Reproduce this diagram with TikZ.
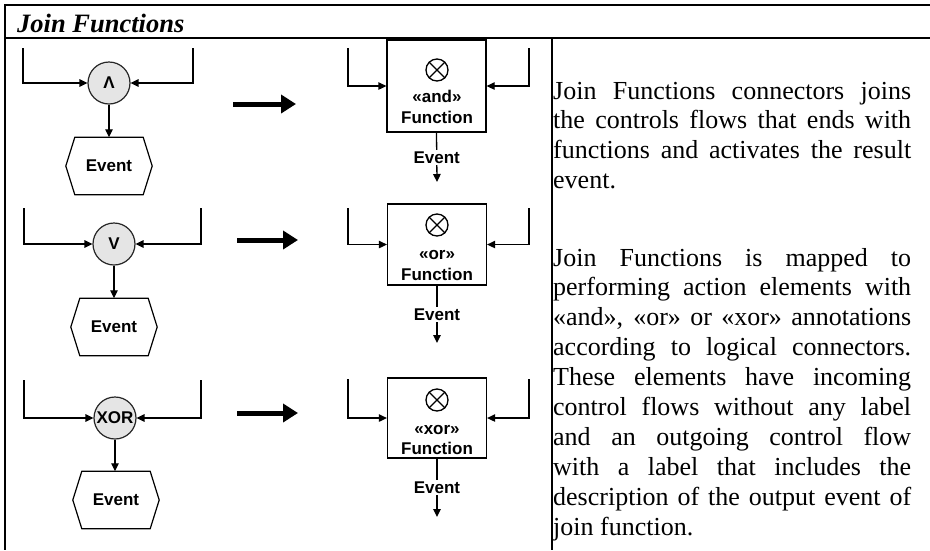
\documentclass[tikz,border=0pt]{standalone}
\usepackage{fontspec}
\setmainfont{Liberation Serif}
\newfontfamily\lsans{Liberation Sans}
\usetikzlibrary{arrows.meta}
\newcommand{\jl}[1]{\makebox[358pt][s]{#1}}
\begin{document}
\begin{tikzpicture}[x=1pt,y=-1pt,
  frame/.style={line width=2pt},
  flow/.style={line width=1.3pt,-{Triangle[length=8pt,width=7.5pt]}},
  plain/.style={line width=1.3pt},
  bigarrow/.style={line width=5pt,-{Triangle[length=15pt,width=18pt]}},
  joinc/.style={circle,draw=black!85,fill=black!10,line width=1.2pt,minimum size=42pt,inner sep=0pt,font=\lsans\bfseries\fontsize{17}{17}\selectfont},
  fnbox/.style={draw,line width=1.3pt,minimum width=99pt,inner sep=0pt},
  otimesc/.style={circle,draw,line width=1.3pt,minimum size=22pt,inner sep=0pt},
  lbl/.style={font=\lsans\bfseries\fontsize{17}{20.5}\selectfont,align=center,inner sep=0pt},
  evbox/.style={rectangle,minimum width=68pt,minimum height=57pt,inner sep=0pt,font=\lsans\bfseries\fontsize{17}{17}\selectfont},
  hexa/.style={line width=1.2pt},
  evlbl/.style={fill=white,inner sep=1.5pt,font=\lsans\bfseries\fontsize{17}{17}\selectfont},
  txt/.style={anchor=base west,inner sep=0pt,font=\fontsize{26}{26}\selectfont}
]
\useasboundingbox (0,0) rectangle (930,550);
\fill[white] (0,0) rectangle (930,550);

% frame
\coordinate (tl) at (5,5);
\coordinate (tr) at (930,5);
\coordinate (hl) at (5,38);
\coordinate (hr) at (930,38);
\coordinate (bl) at (5,550);
\coordinate (mt) at (552,38);
\coordinate (mb) at (552,550);
\draw[frame] (tr) -- (tl) -- (bl);
\draw[frame] (hl) -- (hr);
\draw[frame] (mt) -- (mb);

\node[anchor=base west,inner sep=0pt,font=\bfseries\itshape\fontsize{26.5}{26.5}\selectfont] (title) at (17,32) {Join Functions};

% ---------- group 1: AND ----------
\node[joinc] (c1) at (109,83) {Λ};
\coordinate (c1a) at (23,48);
\coordinate (c1b) at (193,48);
\draw[flow] (c1a) |- (c1.west);
\draw[flow] (c1b) |- (c1.east);
\node[evbox] (ev1) at (109,166) {Event};
\draw[hexa] (ev1.north west) -- (ev1.north east) -- ([xshift=9pt]ev1.east) -- (ev1.south east) -- (ev1.south west) -- ([xshift=-9pt]ev1.west) -- cycle;
\draw[flow] (c1) -- (ev1);

\coordinate (b1s) at (233,104);
\coordinate (b1e) at (296,104);
\draw[bigarrow] (b1s) -- (b1e);

\node[fnbox,minimum height=92pt] (f1) at (436.5,86) {};
\node[otimesc] (x1) at (437,70) {};
\draw[plain] (x1.north west) -- (x1.south east) (x1.north east) -- (x1.south west);
\node[lbl] (f1t) at (437,107) {«and»\\Function};
\coordinate (f1a) at (348,48);
\coordinate (f1b) at (529,48);
\draw[flow] (f1a) |- (f1.west);
\draw[flow] (f1b) |- (f1.east);
\coordinate (f1o) at (437,182);
\draw[flow] (f1.south) -- node[evlbl] {Event} (f1o);

% ---------- group 2: OR ----------
\node[joinc] (c2) at (114,244) {V};
\coordinate (c2a) at (24,208);
\coordinate (c2b) at (201,208);
\draw[flow] (c2a) |- (c2.west);
\draw[flow] (c2b) |- (c2.east);
\node[evbox] (ev2) at (114,327) {Event};
\draw[hexa] (ev2.north west) -- (ev2.north east) -- ([xshift=9pt]ev2.east) -- (ev2.south east) -- (ev2.south west) -- ([xshift=-9pt]ev2.west) -- cycle;
\draw[flow] (c2) -- (ev2);

\coordinate (b2s) at (237,240);
\coordinate (b2e) at (298,240);
\draw[bigarrow] (b2s) -- (b2e);

\node[fnbox,minimum height=81pt] (f2) at (437,244.5) {};
\node[otimesc] (x2) at (437,225) {};
\draw[plain] (x2.north west) -- (x2.south east) (x2.north east) -- (x2.south west);
\node[lbl] (f2t) at (437,265.5) {«or»\\Function};
\coordinate (f2a) at (348,208);
\coordinate (f2b) at (529,208);
\draw[flow] (f2a) |- (f2.west);
\draw[flow] (f2b) |- (f2.east);
\coordinate (f2o) at (437,343);
\draw[flow] (f2.south) -- node[evlbl] {Event} (f2o);

% ---------- group 3: XOR ----------
\node[joinc] (c3) at (115,418) {XOR};
\coordinate (c3a) at (24,380);
\coordinate (c3b) at (201,380);
\draw[flow] (c3a) |- (c3.west);
\draw[flow] (c3b) |- (c3.east);
\node[evbox] (ev3) at (116,500) {Event};
\draw[hexa] (ev3.north west) -- (ev3.north east) -- ([xshift=9pt]ev3.east) -- (ev3.south east) -- (ev3.south west) -- ([xshift=-9pt]ev3.west) -- cycle;
\draw[flow] (c3) -- (c3 |- ev3.north);

\coordinate (b3s) at (237,413);
\coordinate (b3e) at (298,413);
\draw[bigarrow] (b3s) -- (b3e);

\node[fnbox,minimum height=80pt] (f3) at (437,418) {};
\node[otimesc] (x3) at (437,400) {};
\draw[plain] (x3.north west) -- (x3.south east) (x3.north east) -- (x3.south west);
\node[lbl] (f3t) at (437,440) {«xor»\\Function};
\coordinate (f3a) at (348,379);
\coordinate (f3b) at (529,379);
\draw[flow] (f3a) |- (f3.west);
\draw[flow] (f3b) |- (f3.east);
\coordinate (f3o) at (437,517);
\draw[flow] (f3.south) -- node[evlbl] {Event} (f3o);

% ---------- description text ----------
\node[txt] (p1a) at (553,99) {\jl{Join Functions connectors joins}};
\node[txt] (p1b) at (553,128.9) {\jl{the controls flows that ends with}};
\node[txt] (p1c) at (553,158.8) {\jl{functions and activates the result}};
\node[txt] (p1d) at (553,188.7) {event.};

\node[txt] (p2a) at (553,266) {\jl{Join Functions is mapped to}};
\node[txt] (p2b) at (553,295.9) {\jl{performing action elements with}};
\node[txt] (p2c) at (553,325.8) {\jl{«and», «or» or «xor» annotations}};
\node[txt] (p2d) at (553,355.7) {\jl{according to logical connectors.}};
\node[txt] (p2e) at (553,385.6) {\jl{These elements have incoming}};
\node[txt] (p2f) at (553,415.5) {\jl{control flows without any label}};
\node[txt] (p2g) at (553,445.4) {\jl{and an outgoing control flow}};
\node[txt] (p2h) at (553,475.3) {\jl{with a label that includes the}};
\node[txt] (p2i) at (553,505.2) {\jl{description of the output event of}};
\node[txt] (p2j) at (553,535.1) {join function.};
\end{tikzpicture}
\end{document}
